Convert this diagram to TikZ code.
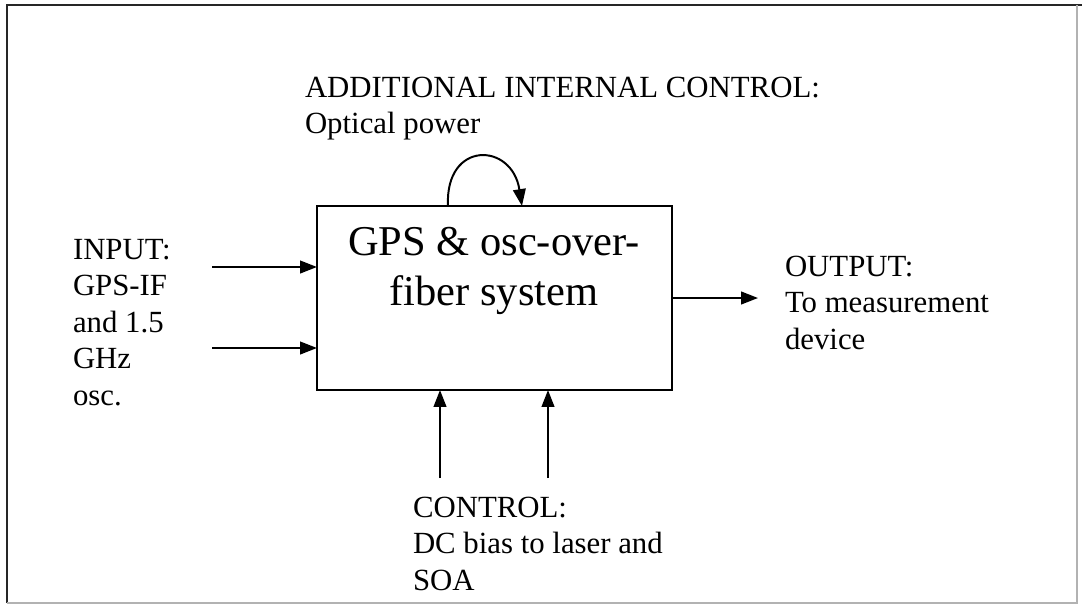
\documentclass[tikz,border=0pt]{standalone}
\usepackage{fontspec}
\setmainfont{Liberation Serif}
\usetikzlibrary{arrows.meta}
\begin{document}
\begin{tikzpicture}[x=0.025cm, y=-0.025cm,
  every node/.style={inner sep=0pt, outer sep=0pt},
  lbl/.style={anchor=base west, font=\fontsize{21.9}{26}\selectfont},
  boxtext/.style={anchor=base, font=\fontsize{30.2}{35.6}\selectfont},
  sysbox/.style={draw, line width=1.4pt, minimum width=8.875cm, minimum height=4.6cm},
  arr/.style={line width=1.4pt, -{Triangle[length=12pt,width=9pt]}},
  frameline/.style={line width=1.4pt, black!85},
  frameedge/.style={line width=1.2pt, black!30}]

\useasboundingbox (0,0) rectangle (1082,605);

% outer frame
\draw[frameline] (7,603) -- (7,5) -- (1082,5);
\draw[frameedge] (1077,5) -- (1077,603) -- (7,603);

% central system block
\node[sysbox] (sys) at (494.5,298) {};
\node[boxtext] (systxt) at (494,255)
  {\begin{tabular}[t]{@{}c@{}}GPS \& osc-over-\\fiber system\end{tabular}};

% labels
\node[lbl] (addl) at (305,97)
  {\begin{tabular}[t]{@{}l@{}}ADDITIONAL INTERNAL CONTROL:\\Optical power\end{tabular}};
\node[lbl] (inp) at (73,259)
  {\begin{tabular}[t]{@{}l@{}}INPUT:\\GPS-IF\\and 1.5\\GHz\\osc.\end{tabular}};
\node[lbl] (outp) at (785,276)
  {\begin{tabular}[t]{@{}l@{}}OUTPUT:\\To measurement\\device\end{tabular}};
\node[lbl] (ctrl) at (413,517)
  {\begin{tabular}[t]{@{}l@{}}CONTROL:\\DC bias to laser and\\SOA\end{tabular}};

% connector end points
\coordinate (in1) at (212,267);
\coordinate (in2) at (212,348);
\coordinate (out) at (758,298);
\coordinate (c1) at (440,478);
\coordinate (c2) at (548,478);
\path (sys.north west) ++(131,0) coordinate (loopA);
\path (sys.north west) ++(205,0) coordinate (loopB);

% inputs
\draw[arr] (in1) -- (in1 -| sys.west);
\draw[arr] (in2) -- (in2 -| sys.west);
% output
\draw[arr] (out -| sys.east) -- (out);
% control inputs
\draw[arr] (c1) -- (c1 |- sys.south);
\draw[arr] (c2) -- (c2 |- sys.south);
% internal feedback loop
\draw[arr] (loopA) .. controls (445,140) and (512,142) .. (loopB);
\end{tikzpicture}
\end{document}
